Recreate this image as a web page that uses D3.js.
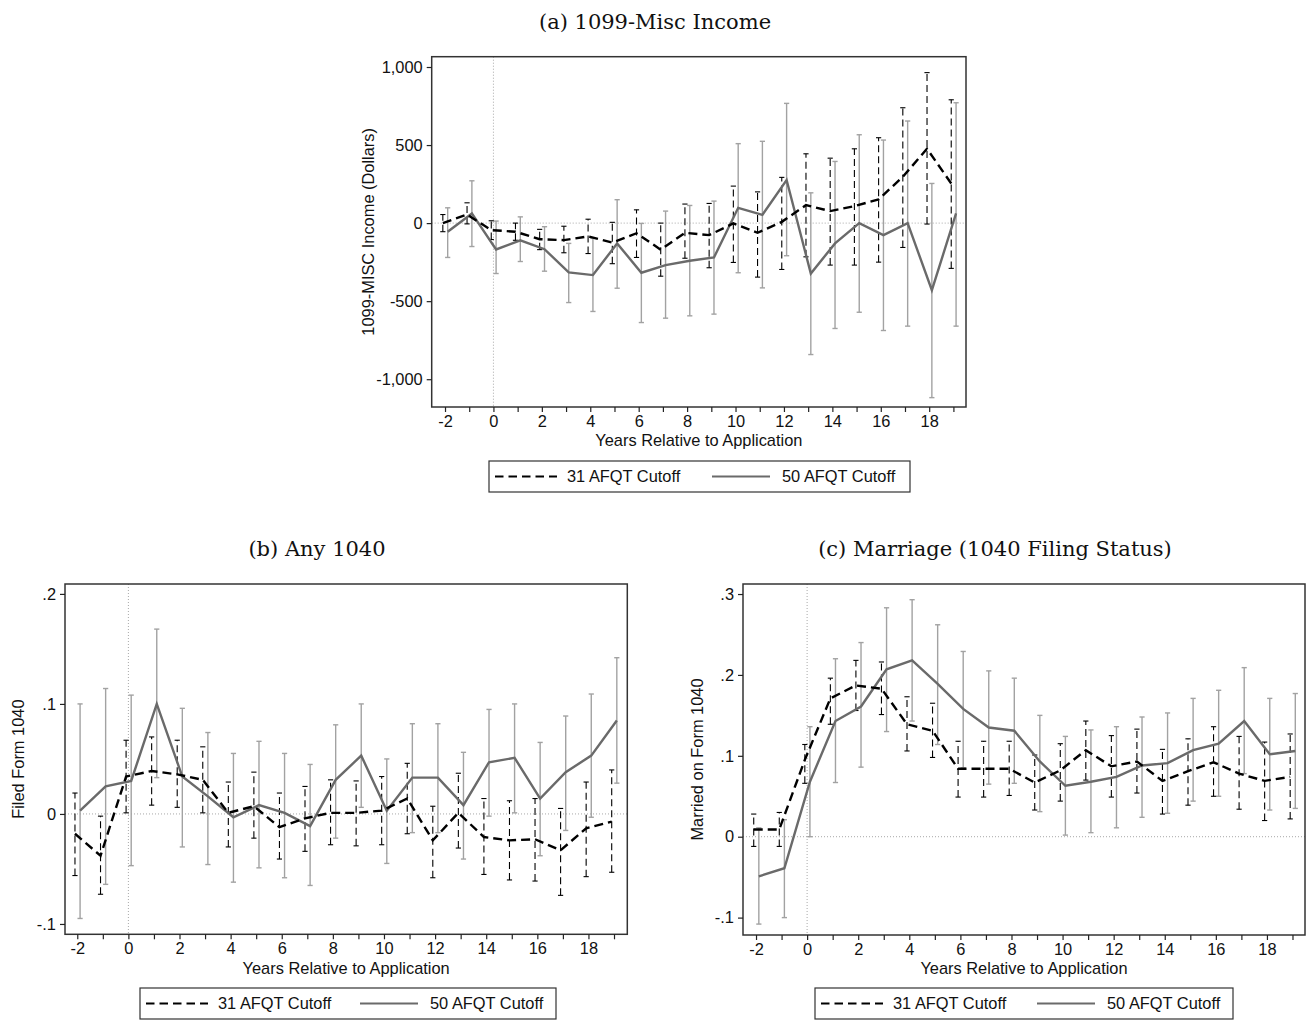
<!DOCTYPE html>
<html><head><meta charset="utf-8">
<script src="https://cdn.jsdelivr.net/npm/d3@7"></script>
<style>body{margin:0;background:#fff}</style>
</head><body>
<svg id="chart" width="1310" height="1020"></svg>
<script>
// ---------- DATA ----------
const years = d3.range(-2, 20);
const xTickLabels = [-2, 0, 2, 4, 6, 8, 10, 12, 14, 16, 18];
const seriesNames = ["31 AFQT Cutoff", "50 AFQT Cutoff"];

// (a) 1099-Misc Income
const a31Mean = [0, 55, -45, -55, -103, -109, -85, -125, -65, -170, -62, -77, -2, -62, 8, 115, 77, 109, 152, 297, 476, 254];
const a31Lo   = [-55, -5, -105, -110, -170, -190, -195, -260, -220, -340, -225, -286, -252, -346, -297, -216, -269, -269, -250, -156, -6, -290];
const a31Hi   = [55, 130, 15, 0, -40, -20, 25, 5, 85, 0, 122, 126, 237, 200, 293, 444, 416, 476, 547, 739, 964, 790];
const a50Mean = [-55, 62, -169, -110, -167, -316, -333, -130, -318, -269, -241, -220, 98, 53, 276, -323, -130, 0, -77, 0, -430, 62];
const a50Lo   = [-220, -150, -323, -246, -308, -509, -566, -417, -637, -609, -594, -583, -318, -415, -209, -842, -675, -571, -688, -660, -1118, -660];
const a50Hi   = [98, 271, 13, 40, -23, -130, -98, 150, -2, 77, 113, 141, 509, 524, 767, 194, 395, 566, 532, 654, 254, 771];
const aYTicks = [-1000, -500, 0, 500, 1000];
const aYTickLabels = ["-1,000", "-500", "0", "500", "1,000"];

// (b) Any 1040
const b31Mean = [-0.018, -0.038, 0.034, 0.039, 0.036, 0.031, 0.001, 0.007, -0.012, -0.004, 0.001, 0.001, 0.003, 0.014, -0.024, 0.001, -0.021, -0.024, -0.023, -0.033, -0.013, -0.007];
const b31Lo   = [-0.056, -0.073, 0.001, 0.008, 0.006, 0.001, -0.030, -0.022, -0.041, -0.034, -0.028, -0.029, -0.028, -0.018, -0.058, -0.031, -0.055, -0.060, -0.061, -0.074, -0.057, -0.053];
const b31Hi   = [0.019, -0.002, 0.067, 0.070, 0.067, 0.061, 0.029, 0.038, 0.019, 0.025, 0.031, 0.030, 0.034, 0.046, 0.007, 0.037, 0.014, 0.012, 0.014, 0.005, 0.029, 0.040];
const b50Mean = [0.003, 0.025, 0.030, 0.100, 0.034, 0.016, -0.003, 0.008, 0.001, -0.011, 0.031, 0.053, 0.003, 0.033, 0.033, 0.008, 0.047, 0.051, 0.014, 0.038, 0.053, 0.085];
const b50Lo   = [-0.095, -0.064, -0.047, 0.033, -0.030, -0.046, -0.062, -0.049, -0.058, -0.065, -0.022, 0.006, -0.045, -0.017, -0.017, -0.041, -0.002, 0.001, -0.038, -0.015, -0.003, 0.028];
const b50Hi   = [0.100, 0.114, 0.108, 0.168, 0.096, 0.074, 0.055, 0.066, 0.055, 0.045, 0.081, 0.100, 0.050, 0.082, 0.082, 0.056, 0.095, 0.100, 0.065, 0.089, 0.109, 0.142];
const bYTicks = [-0.1, 0, 0.1, 0.2];
const bYTickLabels = ["-.1", "0", ".1", ".2"];

// (c) Marriage (1040 Filing Status)
const c31Mean = [0.009, 0.009, 0.095, 0.171, 0.187, 0.183, 0.139, 0.131, 0.084, 0.084, 0.084, 0.067, 0.082, 0.107, 0.087, 0.093, 0.069, 0.081, 0.092, 0.078, 0.069, 0.074];
const c31Lo   = [-0.012, -0.012, 0.066, 0.139, 0.156, 0.151, 0.106, 0.098, 0.049, 0.049, 0.051, 0.033, 0.044, 0.070, 0.049, 0.054, 0.028, 0.039, 0.050, 0.034, 0.020, 0.022];
const c31Hi   = [0.028, 0.030, 0.114, 0.196, 0.218, 0.216, 0.173, 0.165, 0.118, 0.118, 0.118, 0.101, 0.115, 0.143, 0.125, 0.133, 0.108, 0.121, 0.136, 0.124, 0.117, 0.127];
const c50Mean = [-0.049, -0.039, 0.068, 0.143, 0.161, 0.207, 0.218, 0.189, 0.158, 0.135, 0.131, 0.093, 0.063, 0.068, 0.074, 0.088, 0.091, 0.107, 0.115, 0.143, 0.102, 0.106];
const c50Lo   = [-0.108, -0.100, 0.000, 0.067, 0.086, 0.130, 0.143, 0.114, 0.085, 0.065, 0.066, 0.031, 0.002, 0.005, 0.011, 0.024, 0.029, 0.044, 0.050, 0.078, 0.033, 0.035];
const c50Hi   = [0.011, 0.021, 0.136, 0.220, 0.240, 0.283, 0.293, 0.262, 0.229, 0.205, 0.196, 0.150, 0.124, 0.132, 0.136, 0.148, 0.153, 0.171, 0.181, 0.209, 0.171, 0.177];
const cYTicks = [-0.1, 0, 0.1, 0.2, 0.3];
const cYTickLabels = ["-.1", "0", ".1", ".2", ".3"];

// ---------- DRAWING ----------
const svg = d3.select("#chart");
const SANS = "'Liberation Sans', Arial, sans-serif";
const SERIF = "'DejaVu Serif', serif";
const FS = 16.4;
const C31 = "#000";
const C50 = "#6a6a6a";
const C50CI = "#a2a2a2";

function build(mean, lo, hi) {
  return years.map((yr, i) => ({ yr, m: mean[i], lo: lo[i], hi: hi[i] }));
}

function drawPanel(p) {
  const x = d3.scaleLinear().domain(p.xDom).range([p.l, p.r]);
  const y = d3.scaleLinear().domain(p.yDom).range([p.b, p.t]);
  const g = svg.append("g");

  // title
  svg.append("text").attr("x", p.titleX).attr("y", p.titleY)
    .attr("text-anchor", "middle").attr("font-family", SERIF)
    .attr("font-size", 21).attr("fill", "#111").text(p.title);

  // reference lines
  g.append("line").attr("x1", p.l).attr("x2", p.r).attr("y1", y(0)).attr("y2", y(0))
    .attr("stroke", "#a8a8a8").attr("stroke-width", 1).attr("stroke-dasharray", "1,2");
  g.append("line").attr("x1", x(0)).attr("x2", x(0)).attr("y1", p.t).attr("y2", p.b)
    .attr("stroke", "#a8a8a8").attr("stroke-width", 1).attr("stroke-dasharray", "1,2");

  const d31 = build(p.m31, p.lo31, p.hi31);
  const d50 = build(p.m50, p.lo50, p.hi50);
  const off31 = -0.09, off50 = 0.11;
  const capW = 2.6;

  function ciBars(data, off, color, width, dash) {
    const gg = g.append("g");
    gg.selectAll("line.v").data(data).join("line").attr("class", "v")
      .attr("x1", d => x(d.yr + off)).attr("x2", d => x(d.yr + off))
      .attr("y1", d => y(d.lo)).attr("y2", d => y(d.hi))
      .attr("stroke", color).attr("stroke-width", width)
      .attr("stroke-dasharray", dash || null);
    ["lo", "hi"].forEach(k => {
      gg.selectAll("line.c" + k).data(data).join("line").attr("class", "c" + k)
        .attr("x1", d => x(d.yr + off) - capW).attr("x2", d => x(d.yr + off) + capW)
        .attr("y1", d => y(d[k])).attr("y2", d => y(d[k]))
        .attr("stroke", color).attr("stroke-width", width);
    });
  }
  ciBars(d50, off50, C50CI, 1.4, null);
  ciBars(d31, off31, C31, 1.1, "7,4");

  const line50 = d3.line().x(d => x(d.yr + off50)).y(d => y(d.m));
  const line31 = d3.line().x(d => x(d.yr + off31)).y(d => y(d.m));
  g.append("path").datum(d50).attr("d", line50).attr("fill", "none")
    .attr("stroke", C50).attr("stroke-width", 2.4).attr("stroke-linejoin", "miter");
  g.append("path").datum(d31).attr("d", line31).attr("fill", "none")
    .attr("stroke", C31).attr("stroke-width", 2.4).attr("stroke-dasharray", "9,5");

  // frame
  g.append("rect").attr("x", p.l).attr("y", p.t).attr("width", p.r - p.l).attr("height", p.b - p.t)
    .attr("fill", "none").attr("stroke", "#333").attr("stroke-width", 1.5);

  // x axis
  const xa = d3.axisBottom(x).tickValues(years).tickSize(5).tickSizeOuter(0).tickPadding(3)
    .tickFormat(d => xTickLabels.includes(d) ? String(d) : "");
  const gx = g.append("g").attr("transform", `translate(0,${p.b})`).call(xa);
  gx.select(".domain").remove();
  gx.selectAll(".tick line").attr("stroke", "#222").attr("stroke-width", 1.2);
  gx.selectAll("text").attr("font-family", SANS).attr("font-size", FS).attr("fill", "#111");

  // y axis
  const ya = d3.axisLeft(y).tickValues(p.yTicks).tickSize(5).tickSizeOuter(0).tickPadding(4)
    .tickFormat((d, i) => p.yLabels[i]);
  const gy = g.append("g").attr("transform", `translate(${p.l},0)`).call(ya);
  gy.select(".domain").remove();
  gy.selectAll(".tick line").attr("stroke", "#222").attr("stroke-width", 1.2);
  gy.selectAll("text").attr("font-family", SANS).attr("font-size", FS).attr("fill", "#111");

  // axis titles
  g.append("text").attr("x", (p.l + p.r) / 2).attr("y", p.xTitleY).attr("text-anchor", "middle")
    .attr("font-family", SANS).attr("font-size", FS).attr("fill", "#111")
    .text("Years Relative to Application");
  g.append("text").attr("transform", `translate(${p.yTitleX},${(p.t + p.b) / 2}) rotate(-90)`)
    .attr("text-anchor", "middle").attr("dy", "0.35em")
    .attr("font-family", SANS).attr("font-size", FS).attr("fill", "#111").text(p.yTitle);

  // legend
  const L = p.leg;
  const lg = svg.append("g").attr("transform", `translate(${L.x},${L.y})`);
  lg.append("rect").attr("width", L.w).attr("height", L.h).attr("fill", "#fff")
    .attr("stroke", "#333").attr("stroke-width", 1.2);
  const cy = L.h / 2;
  lg.append("line").attr("x1", 6).attr("x2", 68).attr("y1", cy).attr("y2", cy)
    .attr("stroke", C31).attr("stroke-width", 2.2).attr("stroke-dasharray", "8.5,5");
  lg.append("text").attr("x", 78).attr("y", cy).attr("dy", "0.35em").attr("font-family", SANS)
    .attr("font-size", FS).attr("fill", "#111").text(seriesNames[0]);
  lg.append("line").attr("x1", L.s2).attr("x2", L.s2 + 58).attr("y1", cy).attr("y2", cy)
    .attr("stroke", C50).attr("stroke-width", 2.2);
  lg.append("text").attr("x", L.s2 + 70).attr("y", cy).attr("dy", "0.35em").attr("font-family", SANS)
    .attr("font-size", FS).attr("fill", "#111").text(seriesNames[1]);
}

drawPanel({
  title: "(a) 1099-Misc Income", titleX: 655, titleY: 29,
  l: 431.7, t: 56.7, r: 966, b: 407, xDom: [-2.55, 19.52], yDom: [-1178, 1066],
  m31: a31Mean, lo31: a31Lo, hi31: a31Hi, m50: a50Mean, lo50: a50Lo, hi50: a50Hi,
  yTicks: aYTicks, yLabels: aYTickLabels, yTitle: "1099-MISC Income (Dollars)", yTitleX: 368,
  xTitleY: 446, leg: { x: 489, y: 461, w: 421, h: 31, s2: 223 }
});
drawPanel({
  title: "(b) Any 1040", titleX: 317, titleY: 556,
  l: 65, t: 584, r: 627.3, b: 934.3, xDom: [-2.48, 19.52], yDom: [-0.1094, 0.209],
  m31: b31Mean, lo31: b31Lo, hi31: b31Hi, m50: b50Mean, lo50: b50Lo, hi50: b50Hi,
  yTicks: bYTicks, yLabels: bYTickLabels, yTitle: "Filed Form 1040", yTitleX: 18,
  xTitleY: 974, leg: { x: 140, y: 988, w: 416, h: 31, s2: 220 }
});
drawPanel({
  title: "(c) Marriage (1040 Filing Status)", titleX: 995, titleY: 556,
  l: 743, t: 584, r: 1305, b: 935, xDom: [-2.51, 19.49], yDom: [-0.1215, 0.3124],
  m31: c31Mean, lo31: c31Lo, hi31: c31Hi, m50: c50Mean, lo50: c50Lo, hi50: c50Hi,
  yTicks: cYTicks, yLabels: cYTickLabels, yTitle: "Married on Form 1040", yTitleX: 697,
  xTitleY: 974, leg: { x: 815, y: 988, w: 418, h: 31, s2: 222 }
});
</script>
</body></html>
